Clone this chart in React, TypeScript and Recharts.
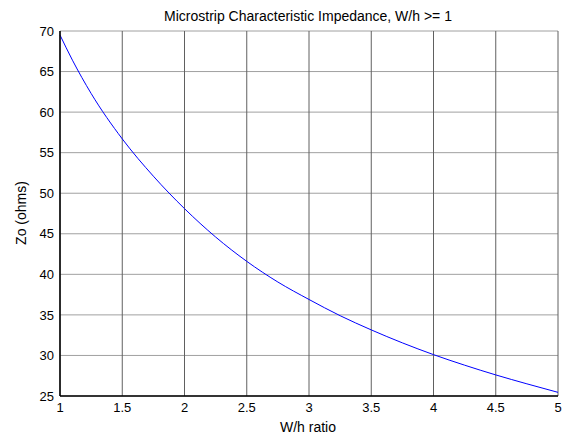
import React from 'react';
import { LineChart, Line, XAxis, YAxis, CartesianGrid } from 'recharts';

const whRatio = [1, 1.1, 1.25, 1.5, 1.75, 2, 2.25, 2.5, 2.75, 3, 3.25, 3.5, 3.75, 4, 4.25, 4.5, 4.75, 5];
const zoOhms = [69.5, 66.4, 62.3, 56.7, 52.1, 48.1, 44.6, 41.6, 39.05, 36.9, 34.9, 33.15, 31.55, 30.1, 28.8, 27.6, 26.5, 25.45];

const xTicks = [1, 1.5, 2, 2.5, 3, 3.5, 4, 4.5, 5];
const yTicks = [25, 30, 35, 40, 45, 50, 55, 60, 65, 70];

const titleText = 'Microstrip Characteristic Impedance, W/h >= 1';
const xLabelText = 'W/h ratio';
const yLabelText = 'Zo (ohms)';

const data = whRatio.map((w, i) => ({ w, z: zoOhms[i] }));

const FONT = '"Liberation Sans", Arial, Helvetica, sans-serif';

export default function App() {
  return (
    <div style={{ position: 'absolute', left: 0, top: 0, width: 565, height: 435, background: '#fff', fontFamily: FONT }}>
      <LineChart width={565} height={435} data={data} margin={{ top: 31, right: 7, bottom: 0, left: 0 }}>
        <CartesianGrid horizontal={true} vertical={false} stroke="#a0a0a0" />
        <CartesianGrid horizontal={false} vertical={true} stroke="#606060" />
        <XAxis
          dataKey="w"
          type="number"
          domain={[1, 5]}
          ticks={xTicks}
          height={39}
          tickLine={false}
          tickSize={0}
          tickMargin={7}
          axisLine={{ stroke: '#000', strokeWidth: 1.5 }}
          tick={{ fill: '#000', fontSize: 13, fontFamily: FONT }}
          interval={0}
        />
        <XAxis
          xAxisId="top"
          orientation="top"
          dataKey="w"
          type="number"
          domain={[1, 5]}
          ticks={xTicks}
          height={0}
          tick={false}
          tickLine={false}
          axisLine={{ stroke: '#000', strokeWidth: 1.5 }}
        />
        <YAxis
          type="number"
          domain={[25, 70]}
          ticks={yTicks}
          width={60}
          tickLine={false}
          tickSize={0}
          tickMargin={6}
          axisLine={{ stroke: '#000', strokeWidth: 1.5 }}
          tick={{ fill: '#000', fontSize: 13, fontFamily: FONT }}
          interval={0}
        />
        <YAxis
          yAxisId="right"
          orientation="right"
          type="number"
          domain={[25, 70]}
          ticks={yTicks}
          width={0}
          tick={false}
          tickLine={false}
          axisLine={{ stroke: '#000', strokeWidth: 1.5 }}
        />
        <Line
          type="monotone"
          dataKey="z"
          stroke="#0000ff"
          strokeWidth={1}
          dot={false}
          isAnimationActive={false}
        />
      </LineChart>
      <div style={{ position: 'absolute', left: 0, width: 616, top: 8, textAlign: 'center', fontSize: 14, lineHeight: '16px', color: '#000' }}>
        {titleText}
      </div>
      <div style={{ position: 'absolute', left: 0, width: 616, top: 419, textAlign: 'center', fontSize: 14, lineHeight: '16px', color: '#000' }}>
        {xLabelText}
      </div>
      <div style={{ position: 'absolute', left: 21 - 60, top: 213 - 8, width: 120, height: 16, textAlign: 'center', fontSize: 14, lineHeight: '16px', color: '#000', transform: 'rotate(-90deg)', transformOrigin: '60px 8px' }}>
        {yLabelText}
      </div>
    </div>
  );
}
